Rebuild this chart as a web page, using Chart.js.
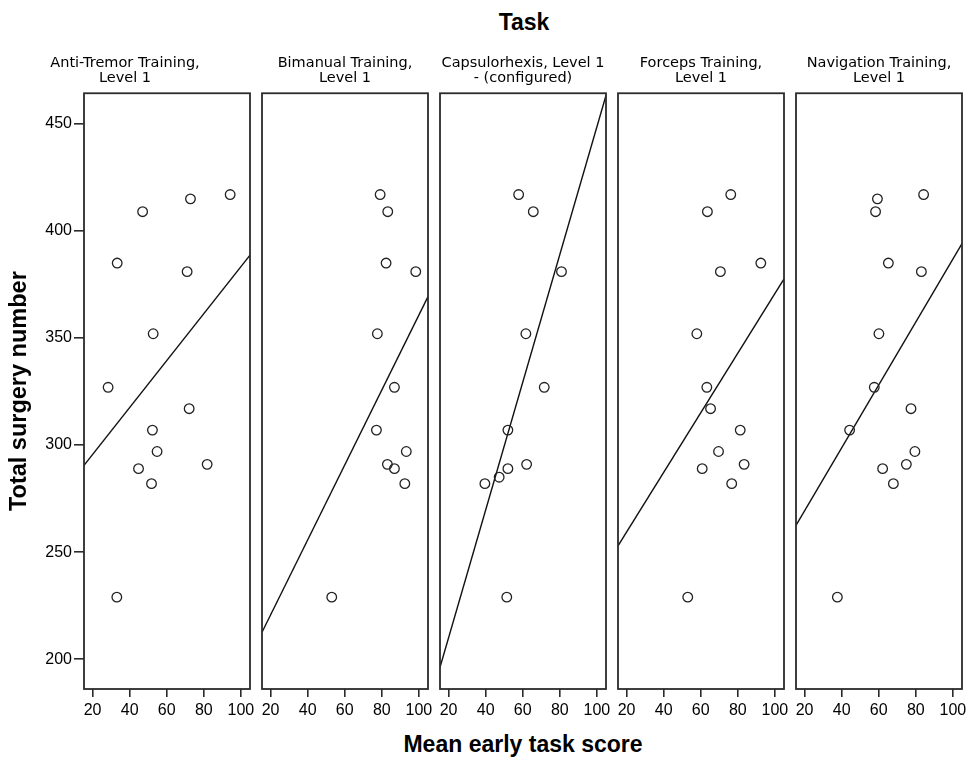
<!DOCTYPE html>
<html>
<head>
<meta charset="utf-8">
<script src="https://cdn.jsdelivr.net/npm/chart.js@4.4.1/dist/chart.umd.min.js"></script>
<style>
    html, body { margin: 0; padding: 0; background: #fff; }
    #wrap { position: relative; width: 970px; height: 759px; overflow: hidden; font-family: 'Liberation Sans', Arial, sans-serif; color: #000; }
    #wrap canvas { position: absolute; }
    #task-title { position: absolute; left: 424px; width: 200px; top: 9px; line-height: 26px; text-align: center; font-weight: bold; font-size: 23px; }
    #x-title { position: absolute; left: 323px; width: 400px; top: 731px; line-height: 26px; text-align: center; font-weight: bold; font-size: 23px; }
</style>
</head>
<body>
<div id="wrap">
    <div id="task-title">Task</div>
    <div id="x-title">Mean early task score</div>
</div>
<script>
// panel titles (one per task)
const taskNames = [
    ['Anti-Tremor Training,', 'Level 1'],
    ['Bimanual Training,', 'Level 1'],
    ['Capsulorhexis, Level 1', '- (configured)'],
    ['Forceps Training,', 'Level 1'],
    ['Navigation Training,', 'Level 1']
];

// total surgery number per surgeon (same order in every score list)
const surgeryTotals = [417, 415, 409, 385, 381, 352, 327, 317, 307, 297, 291, 289, 285, 282, 229];

// mean early task score per surgeon, null = not recorded for that task
const antiTremorScores = [94.2, 72.8, 47.0, 33.3, 71.0, 52.7, 28.4, 72.1, 52.3, 54.8, 81.8, 44.8, null, 51.8, 33.1];
const bimanualScores = [79.1, null, 83.2, 82.3, 98.3, 77.6, 86.8, null, 77.1, 93.2, 83.0, 86.8, null, 92.4, 53.0];
const capsulorhexisScores = [57.8, null, 65.7, null, 80.9, 61.7, 71.6, null, 52.0, null, 62.1, 52.0, 47.3, 39.6, 51.4];
const forcepsScores = [76.2, null, 63.6, 92.4, 70.6, 57.9, 63.3, 65.3, 81.3, 69.6, 83.4, 60.8, null, 76.7, 53.0];
const navigationScores = [84.2, 59.3, 58.3, 65.2, 83.0, 60.1, 57.6, 77.4, 44.3, 79.5, 74.9, 62.1, null, 67.9, 37.7];

const xTicks = [20, 40, 60, 80, 100];
const yTicks = [200, 250, 300, 350, 400, 450];

const taskScores = [antiTremorScores, bimanualScores, capsulorhexisScores, forcepsScores, navigationScores];

// axis ranges
const xMin = 15.4, xMax = 104.9;
const yMin = 186.1, yMax = 464.3;

// layout
const panelLefts = [84, 262, 440, 618, 796];
const panelWidth = 166;
const canvasTop = 52;
const xAxisHeight = 40;
const areaBottom = 689;
const fontFamily = "'Liberation Sans', Arial, sans-serif";

// least-squares fit line through a panel's points
function fitLine(xs, ys) {
    const n = xs.length;
    const mx = xs.reduce((s, v) => s + v, 0) / n;
    const my = ys.reduce((s, v) => s + v, 0) / n;
    let sxy = 0, sxx = 0;
    xs.forEach((x, i) => {
        sxy += (x - mx) * (ys[i] - my);
        sxx += (x - mx) * (x - mx);
    });
    const slope = sxy / sxx;
    return x => my + slope * (x - mx);
}

const framePlugin = {
    id: 'panelFrame',
    afterDatasetsDraw(chart) {
        const {ctx, chartArea: a} = chart;
        ctx.save();
        ctx.strokeStyle = '#2b2b2b';
        ctx.lineWidth = 1.8;
        ctx.strokeRect(a.left, a.top, a.right - a.left, a.bottom - a.top);
        ctx.restore();
    }
};

const wrap = document.getElementById('wrap');

taskScores.forEach((scores, k) => {
    const points = [];
    scores.forEach((s, i) => {
        if (s !== null) points.push({x: s, y: surgeryTotals[i]});
    });
    const line = fitLine(points.map(p => p.x), points.map(p => p.y));

    const first = k === 0;
    const canvas = document.createElement('canvas');
    const left = first ? 0 : panelLefts[k] - 12;
    const width = first ? panelLefts[0] + panelWidth + 12 : panelWidth + 24;
    const height = areaBottom + xAxisHeight - canvasTop;
    canvas.width = width;
    canvas.height = height;
    canvas.style.left = left + 'px';
    canvas.style.top = canvasTop + 'px';
    canvas.style.width = width + 'px';
    canvas.style.height = height + 'px';
    wrap.appendChild(canvas);

    new Chart(canvas.getContext('2d'), {
        type: 'scatter',
        data: {
            datasets: [{
                data: points,
                pointStyle: 'circle',
                pointRadius: 4.8,
                pointBorderWidth: 1.3,
                borderColor: '#222',
                backgroundColor: 'rgba(0,0,0,0)',
                pointHoverRadius: 4.8
            }, {
                data: [{x: xMin, y: line(xMin)}, {x: xMax, y: line(xMax)}],
                showLine: true,
                pointRadius: 0,
                borderColor: '#111',
                borderWidth: 1.4,
                fill: false
            }]
        },
        options: {
            responsive: false,
            animation: false,
            devicePixelRatio: 1,
            layout: {
                padding: {left: first ? 0 : 12, right: 12, top: 0, bottom: 0}
            },
            plugins: {
                legend: {display: false},
                tooltip: {enabled: false},
                title: {
                    display: true,
                    text: taskNames[k],
                    color: '#000',
                    font: {family: "'DejaVu Sans', sans-serif", size: 14.5, weight: 'normal', lineHeight: 1.04},
                    padding: {top: 3.8, bottom: 7.3}
                }
            },
            scales: {
                x: {
                    type: 'linear',
                    min: xMin,
                    max: xMax,
                    afterBuildTicks: s => { s.ticks = xTicks.map(v => ({value: v})); },
                    afterFit: s => { s.height = xAxisHeight; },
                    grid: {drawOnChartArea: false, drawTicks: true, tickLength: 8, color: '#2b2b2b', lineWidth: 1.6},
                    border: {display: false},
                    ticks: {color: '#000', padding: 4, maxRotation: 0, autoSkip: false, font: {family: fontFamily, size: 16}}
                },
                y: {
                    type: 'linear',
                    display: first,
                    min: yMin,
                    max: yMax,
                    afterBuildTicks: s => { s.ticks = yTicks.map(v => ({value: v})); },
                    afterFit: s => { s.width = first ? panelLefts[0] : 0; },
                    grid: {drawOnChartArea: false, drawTicks: true, tickLength: 10, color: '#2b2b2b', lineWidth: 1.6},
                    border: {display: false},
                    ticks: {color: '#000', padding: 2, autoSkip: false, font: {family: fontFamily, size: 16}},
                    title: {
                        display: true,
                        text: 'Total surgery number',
                        color: '#000',
                        font: {family: fontFamily, size: 23.5, weight: 'bold'},
                        padding: {top: 5, bottom: 0}
                    }
                }
            }
        },
        plugins: [framePlugin]
    });
});
</script>
</body>
</html>
